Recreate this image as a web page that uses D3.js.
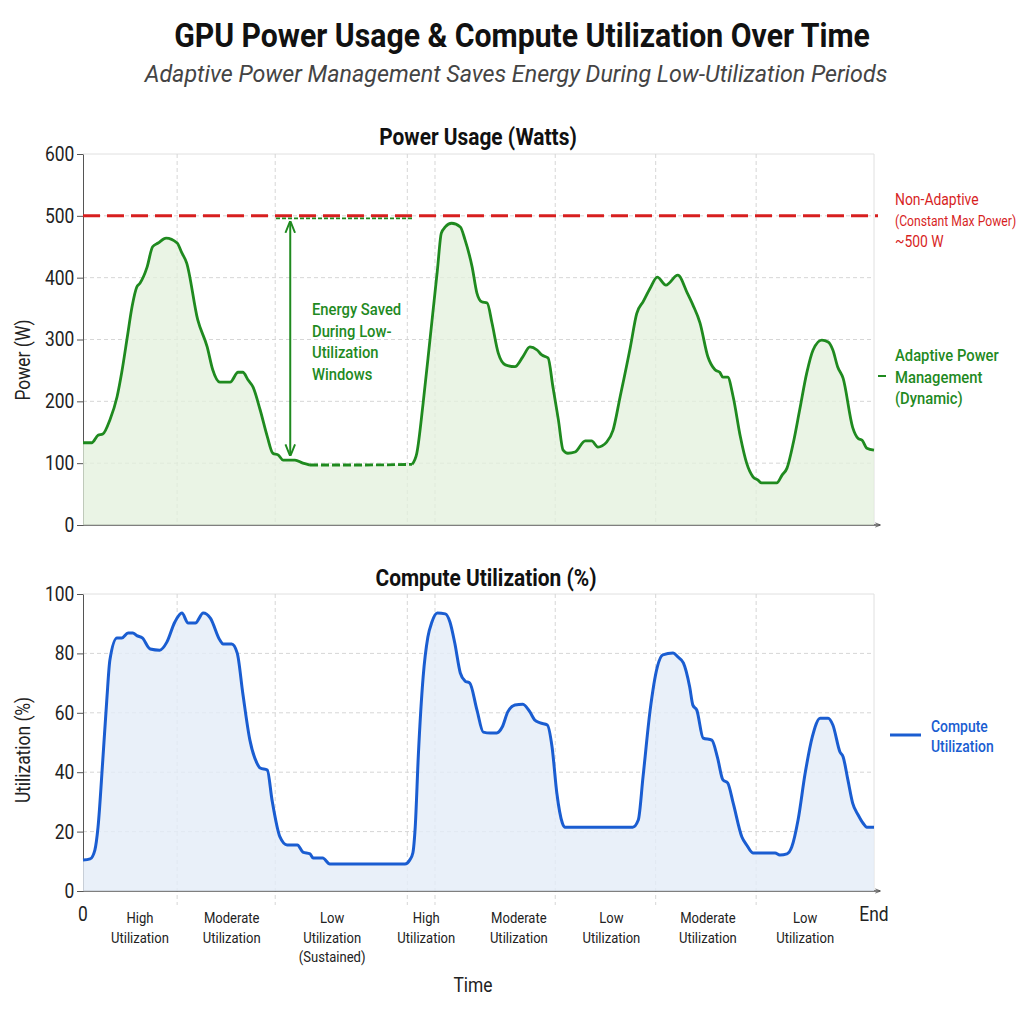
<!DOCTYPE html>
<html>
<head>
<meta charset="utf-8">
<script src="https://d3js.org/d3.v7.min.js"></script>
<style>
  body { margin: 0; background: #fff; }
  text { font-family: Roboto, "Noto Sans", sans-serif; }
  .grid line { stroke: #d6d6d6; stroke-dasharray: 4 3; }
  .axis path, .axis line { stroke: #555; }
</style>
</head>
<body>
<div id="chart"></div>
<script>
// time runs from 0 (start) to 100 ("End")
const powerTime = [0, 1.1, 1.9, 2.5, 3.4, 4.3, 4.9, 5.6, 6.2, 6.8, 7.2, 8.1, 8.8, 9.5, 10.5, 11.9, 12.5, 13.1, 14.5, 15.7,
  16.4, 17.3, 18.6, 19.6, 20.2, 20.9, 21.5, 22.4, 23.3, 24.0, 24.7, 25.3, 26.8, 27.8, 28.7, 35.0, 41.6, 42.2, 43.0, 43.9,
  44.8, 45.3, 45.8, 46.6, 47.7, 48.3, 49.2, 49.8, 50.4, 51.1, 51.7, 52.5, 53.4, 54.6, 55.6, 56.5, 57.4, 58.0, 58.8, 59.4,
  60.1, 60.7, 61.3, 62.2, 63.5, 64.3, 65.1, 66.2, 67.0, 67.9, 69.2, 70.0, 70.8, 71.7, 72.6, 73.7, 75.2, 76.4, 77.1, 78.0,
  79.0, 79.9, 80.5, 80.9, 81.5, 82.2, 83.1, 83.9, 84.7, 85.3, 85.8, 87.7, 88.4, 89.0, 89.8, 90.6, 91.5, 92.3, 93.4, 94.2,
  94.8, 95.4, 96.1, 97.3, 98.0, 98.5, 99.1, 100];
const powerWatts = [133, 133, 145, 147, 170, 207, 247, 304, 353, 385, 391, 417, 450, 456, 464, 456, 440, 424, 332, 288,
  251, 231, 231, 247, 247, 234, 223, 186, 143, 116, 113, 105, 105, 100, 97, 97, 98, 116, 197, 304,
  412, 472, 482, 488, 482, 461, 417, 375, 361, 359, 327, 278, 259, 256, 272, 288, 283, 275, 270, 224,
  170, 121, 116, 118, 136, 136, 126, 134, 153, 207, 288, 342, 361, 383, 401, 388, 404, 375, 356, 327,
  272, 251, 247, 239, 239, 207, 143, 100, 78, 73, 68, 68, 81, 92, 133, 186, 246, 283, 299, 296,
  283, 256, 237, 158, 140, 137, 124, 121];

const utilTime = [0, 0.9, 1.5, 1.9, 2.5, 3.0, 3.4, 4.3, 4.9, 5.7, 6.3, 6.8, 7.5, 8.5, 9.7, 10.6, 11.6, 12.5, 13.3, 14.2,
  15.2, 16.1, 17.3, 17.7, 18.8, 19.5, 20.2, 21.1, 22.0, 22.4, 23.3, 23.9, 24.9, 25.8, 27.1, 27.8, 28.7, 29.1, 30.3, 31.2,
  40.7, 41.3, 41.7, 42.0, 42.4, 43.0, 43.6, 44.1, 44.8, 45.8, 46.4, 47.0, 47.7, 48.3, 48.9, 49.8, 50.6, 51.5, 52.3, 53.0,
  53.7, 54.6, 55.6, 56.5, 57.1, 57.8, 58.7, 59.3, 59.9, 60.6, 60.9, 69.5, 70.2, 70.8, 71.7, 72.6, 73.3, 74.6, 75.2, 75.9,
  76.7, 77.1, 77.6, 78.4, 79.5, 80.2, 80.9, 81.5, 82.2, 83.3, 83.9, 84.7, 87.5, 88.1, 89.0, 89.6, 90.4, 91.3, 92.2, 93.2,
  94.2, 94.8, 95.7, 96.1, 96.7, 97.3, 98.0, 98.6, 99.1, 100];
const utilPct = [10.4, 10.8, 13.8, 21.5, 44, 64, 77.8, 85.2, 85.2, 86.9, 86.9, 86, 85.2, 81.5, 81.1, 83.8, 90.5, 93.6, 90.2, 90.2,
  93.6, 91.9, 84.5, 83.2, 83.2, 80.1, 66.6, 50.8, 43, 41.4, 40.7, 30.6, 18.2, 15.5, 15.5, 13.1, 12.5, 11.1, 11.1, 9.1,
  9.1, 10.4, 12.8, 21.5, 46, 72, 85.5, 90.5, 93.6, 93.3, 90.5, 83.5, 73.4, 70.7, 70, 61, 53.5, 53.2, 53.2, 55.2,
  60.3, 62.6, 62.9, 60.3, 57.6, 56.6, 55.9, 48.5, 33, 22.9, 21.5, 21.5, 23.9, 38.4, 60.9, 75.4, 79.5, 80.1, 78.8, 76.8,
  68.7, 62.6, 60.9, 51.5, 50.8, 45.1, 37.4, 36.4, 29.6, 18.2, 15.5, 12.8, 12.8, 12.1, 12.5, 14.8, 23.9, 39.7, 51.9, 58.2,
  58.2, 55.9, 46.8, 45.1, 37.4, 29.6, 25.6, 22.9, 21.5, 21.5];

const maxPower = 500;
const lowWindow = [28.7, 41.6];          // sustained low-utilisation window (dashed)
const savedArrowTime = 26.2;
const savedRange = [113, 490];
const phaseBounds = [11.9, 24.3, 41.0, 44.5, 59.7, 72.4, 85.1];
const phaseCenters = [7.2, 18.8, 31.5, 43.4, 55.1, 66.8, 79.0, 91.3];
const phaseLabels = [["High", "Utilization"], ["Moderate", "Utilization"], ["Low", "Utilization", "(Sustained)"],
  ["High", "Utilization"], ["Moderate", "Utilization"], ["Low", "Utilization"], ["Moderate", "Utilization"], ["Low", "Utilization"]];
const powerTicks = [0, 100, 200, 300, 400, 500, 600];
const utilTicks = [0, 20, 40, 60, 80, 100];

const RED = "#d71f1f", GREEN = "#1f8a1f", BLUE = "#1a5dd1";
const SX = 0.87; // condensed look

const svg = d3.select("#chart").append("svg").attr("width", 1024).attr("height", 1024);

const defs = svg.append("defs");
function marker(id, color, size) {
  defs.append("marker").attr("id", id).attr("viewBox", "0 0 10 10").attr("refX", 9).attr("refY", 5)
    .attr("markerWidth", size).attr("markerHeight", size).attr("orient", "auto-start-reverse")
    .append("path").attr("d", "M0,1 L10,5 L0,9").attr("fill", "none").attr("stroke", color).attr("stroke-width", 1.6);
}
marker("arrG", GREEN, 6);
marker("arrAx", "#555", 4);

function label(g, x, y, str, o = {}) {
  return g.append("text")
    .attr("transform", `translate(${x},${y}) scale(${o.sx || SX},1)`)
    .attr("text-anchor", o.anchor || "start")
    .attr("font-size", o.size || 15)
    .attr("font-weight", o.weight || 400)
    .attr("font-style", o.italic ? "italic" : "normal")
    .attr("fill", o.fill || "#222")
    .text(str);
}

const x = d3.scaleLinear().domain([0, 100]).range([83, 874]);
const yP = d3.scaleLinear().domain([0, 600]).range([525, 154]);
const yU = d3.scaleLinear().domain([0, 100]).range([891, 594]);

// titles
label(svg, 522, 47, "GPU Power Usage & Compute Utilization Over Time", { size: 33, weight: 700, anchor: "middle", fill: "#111", sx: 0.915 });
label(svg, 516, 82, "Adaptive Power Management Saves Energy During Low-Utilization Periods", { size: 24, italic: true, anchor: "middle", fill: "#444", sx: 0.97 });

function panel(y, ticks, yTitle, yTitleY, title, titleX, titleY, extendGrid) {
  const g = svg.append("g");
  const [y0, y1] = y.range();
  // horizontal grid
  g.append("g").attr("class", "grid").selectAll("line").data(ticks.slice(1, -1)).join("line")
    .attr("x1", x(0)).attr("x2", x(100)).attr("y1", d => y(d)).attr("y2", d => y(d));
  g.append("line").attr("x1", x(0)).attr("x2", x(100)).attr("y1", y1).attr("y2", y1).attr("stroke", "#e0e0e0");
  g.append("line").attr("x1", x(100)).attr("x2", x(100)).attr("y1", y1).attr("y2", y0).attr("stroke", "#e0e0e0");
  // vertical phase grid
  g.append("g").attr("class", "grid").selectAll("line").data(phaseBounds).join("line")
    .attr("x1", d => x(d)).attr("x2", d => x(d)).attr("y1", y1).attr("y2", y0 + extendGrid);
  // y axis
  const ax = g.append("g").attr("class", "axis").attr("transform", `translate(${x(0)},0)`)
    .call(d3.axisLeft(y).tickValues(ticks).tickSize(6).tickPadding(4).tickSizeOuter(0));
  ax.selectAll("text").attr("font-size", 20).attr("fill", "#222").attr("font-family", "Roboto")
    .attr("transform", `scale(${SX},1)`);
  // x axis line with arrow
  g.append("line").attr("x1", x(0)).attr("x2", x(100) + 6).attr("y1", y0).attr("y2", y0)
    .attr("stroke", "#555").attr("stroke-width", 1.3).attr("marker-end", "url(#arrAx)");
  label(g, 30, yTitleY, yTitle, { size: 20, anchor: "middle" })
    .attr("transform", `translate(30,${yTitleY}) rotate(-90) scale(${SX},1)`);
  label(g, titleX, titleY, title, { size: 24, weight: 700, anchor: "middle", fill: "#111" });
  return g;
}

// ---------- power panel ----------
const gp = panel(yP, powerTicks, "Power (W)", 360, "Power Usage (Watts)", 478, 145, 0);
const powerData = powerTime.map((t, i) => ({ t, v: powerWatts[i] }));
gp.append("path").datum(powerData).attr("fill", "#e3f0dc").attr("fill-opacity", 0.75)
  .attr("d", d3.area().x(d => x(d.t)).y0(yP(0)).y1(d => yP(d.v)).curve(d3.curveMonotoneX));

// red constant max power line
gp.append("line").attr("x1", x(0)).attr("x2", x(100) + 4).attr("y1", yP(maxPower)).attr("y2", yP(maxPower))
  .attr("stroke", RED).attr("stroke-width", 3).attr("stroke-dasharray", "17 7");

// energy-saved annotation
gp.append("line").attr("x1", x(24.4)).attr("x2", x(lowWindow[1])).attr("y1", yP(496)).attr("y2", yP(496))
  .attr("stroke", GREEN).attr("stroke-width", 1.8).attr("stroke-dasharray", "4 2");
gp.append("line").attr("x1", x(savedArrowTime)).attr("x2", x(savedArrowTime))
  .attr("y1", yP(savedRange[0])).attr("y2", yP(savedRange[1]))
  .attr("stroke", GREEN).attr("stroke-width", 2).attr("marker-start", "url(#arrG)").attr("marker-end", "url(#arrG)");
["Energy Saved", "During Low-", "Utilization", "Windows"].forEach((s, i) =>
  label(gp, 312, 315 + i * 21.5, s, { size: 17, weight: 500, fill: GREEN }));

const pLine = d3.line().x(d => x(d.t)).y(d => yP(d.v)).curve(d3.curveMonotoneX);
const seg1 = powerData.filter(d => d.t <= lowWindow[0]);
const seg2 = powerData.filter(d => d.t >= lowWindow[0] && d.t <= lowWindow[1]);
const seg3 = powerData.filter(d => d.t >= lowWindow[1]);
[seg1, seg3].forEach(s => gp.append("path").datum(s).attr("fill", "none").attr("stroke", GREEN)
  .attr("stroke-width", 2.8).attr("stroke-linejoin", "round").attr("d", pLine));
gp.append("path").datum(seg2).attr("fill", "none").attr("stroke", GREEN).attr("stroke-width", 2.8)
  .attr("stroke-dasharray", "8 3").attr("d", pLine);

// right legend
["Non-Adaptive", "(Constant Max Power)", "~500 W"].forEach((s, i) =>
  label(svg, 895, 205 + i * 21, s, { size: i === 1 ? 14.5 : 16, fill: RED, sx: i === 1 ? 0.84 : SX }));
svg.append("line").attr("x1", 878).attr("x2", 886).attr("y1", 376).attr("y2", 376).attr("stroke", GREEN).attr("stroke-width", 2);
["Adaptive Power", "Management", "(Dynamic)"].forEach((s, i) =>
  label(svg, 895, 361 + i * 21.5, s, { size: 17, weight: 500, fill: GREEN }));

// ---------- utilization panel ----------
const gu = panel(yU, utilTicks, "Utilization (%)", 750, "Compute Utilization (%)", 486, 586, 14);
const utilData = utilTime.map((t, i) => ({ t, v: utilPct[i] }));
gu.append("path").datum(utilData).attr("fill", "#e4ecf8").attr("fill-opacity", 0.8)
  .attr("d", d3.area().x(d => x(d.t)).y0(yU(0)).y1(d => yU(d.v)).curve(d3.curveMonotoneX));
gu.append("path").datum(utilData).attr("fill", "none").attr("stroke", BLUE).attr("stroke-width", 3)
  .attr("stroke-linejoin", "round")
  .attr("d", d3.line().x(d => x(d.t)).y(d => yU(d.v)).curve(d3.curveMonotoneX));

svg.append("line").attr("x1", 890).attr("x2", 921).attr("y1", 735).attr("y2", 735).attr("stroke", BLUE).attr("stroke-width", 3);
["Compute", "Utilization"].forEach((s, i) =>
  label(svg, 931, 732 + i * 20, s, { size: 16, weight: 500, fill: BLUE }));

// x labels
label(svg, x(0), 921, "0", { size: 20, anchor: "middle" });
label(svg, x(100), 921, "End", { size: 20, anchor: "middle" });
phaseLabels.forEach((lines, i) => lines.forEach((s, j) =>
  label(svg, x(phaseCenters[i]), 923 + j * 19.5, s, { size: 15, anchor: "middle" })));
label(svg, 473, 992, "Time", { size: 20, anchor: "middle" });
</script>
</body>
</html>
